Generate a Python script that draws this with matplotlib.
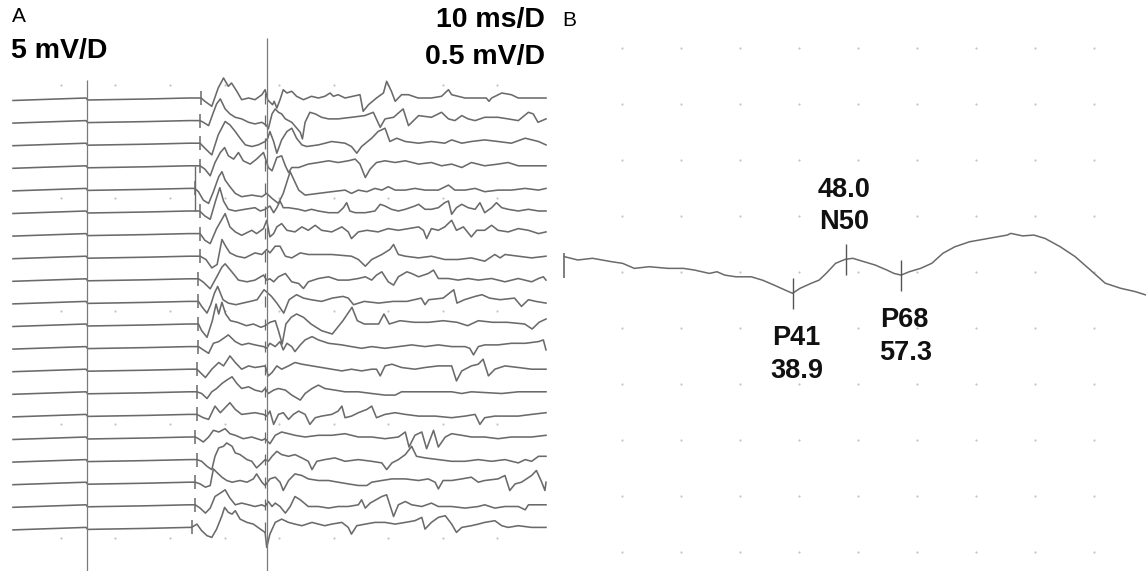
import numpy as np
import matplotlib.pyplot as plt

plt.rcParams['font.family'] = ['Liberation Sans', 'DejaVu Sans']

# ---- Panel A: 20 sweeps (time in ms, amplitude in uV) ----
# shared flat pre-stimulus baseline
pre_t = [0, 13.7, 14.0, 25.0, 33.0]
pre_v = [-25, 0, -20, -10, 0]

# stimulus artifact time of each sweep (ms)
stim_ms = [35.3, 35.1, 35.1, 35.1, 34.1, 35.0, 35.1, 35.1, 34.8, 34.8,
           34.8, 34.8, 34.5, 34.5, 34.5, 34.2, 34.5, 34.2, 34.2, 33.5]

tr00 = [(35.3, 0), (36.0, -33), (37.3, -83), (38.5, 100), (39.5, 200), (40.4, 117), (41.0, 150),
        (42.0, 67), (42.9, -17), (44.2, 0), (45.4, -17), (46.7, 33), (47.3, 83), (47.8, -20),
        (48.7, -67), (49.0, -33), (49.5, -100), (50.1, -17), (50.7, 83), (51.4, 50), (52.3, 67),
        (53.2, 17), (54.5, -17), (56.0, 17), (57.3, 0), (58.5, 17), (59.5, 50), (60.1, 17),
        (61.0, 33), (62.3, 0), (65.1, 33), (65.7, -133), (66.7, -67), (68.2, 0), (69.5, 50),
        (70.1, 167), (71.0, 67), (71.7, -33), (72.9, 33), (74.2, 33), (76.0, 0), (78.5, 0),
        (80.4, 17), (81.7, 83), (82.3, 33), (83.5, 17), (84.8, 0), (88.8, 0), (89.3, -33),
        (89.8, 0), (91.7, 50), (93.5, 33), (94.8, 0), (97.3, 0), (100, 0)]
tr01 = [(35.1, 0), (35.7, -17), (36.7, -50), (37.6, 83), (38.2, 167), (38.9, 217), (39.8, 117),
        (40.7, 67), (41.7, 33), (42.9, 17), (44.2, -17), (45.4, -33), (46.7, -17), (47.6, -50),
        (47.9, -83), (48.6, 67), (49.2, 117), (49.8, 83), (50.4, 67), (51.1, 17), (52.3, -17),
        (53.9, -117), (54.3, -183), (54.8, -17), (55.7, 83), (56.7, 67), (57.9, 33), (59.2, 17),
        (61.0, 17), (63.5, 33), (66.0, 50), (67.6, 83), (68.9, -67), (69.8, 17), (71.4, 33),
        (73.2, 117), (74.2, -50), (76.1, 50), (78.5, 33), (80.4, 83), (81.7, 17), (82.9, 0),
        (84.2, 50), (85.4, 17), (86.7, 0), (88.5, 33), (91.0, 33), (92.9, 17), (94.8, 0),
        (96.7, 83), (97.6, 67), (98.5, -17), (100, 17)]
tr02 = [(35.1, 0), (36.0, -50), (37.3, -117), (38.5, 83), (39.8, 217), (40.7, 183), (41.7, 117),
        (42.6, 50), (43.6, -17), (44.8, -33), (46.0, -17), (47.3, 17), (47.8, 50), (48.2, 117),
        (48.9, 17), (49.5, -100), (50.4, 33), (51.4, 117), (52.3, 150), (53.2, 50), (54.2, -17),
        (55.1, -33), (57.3, -17), (59.8, 17), (62.3, 0), (63.5, -33), (64.5, -100), (65.4, -33),
        (67.3, 50), (68.5, 117), (69.8, 150), (70.7, 17), (72.0, 50), (73.6, 17), (76.1, 0),
        (78.5, 17), (81.0, 0), (82.3, 33), (84.2, 0), (86.0, 17), (88.5, 33), (91.0, 17),
        (93.5, 0), (96.1, 50), (98.6, 17), (100, -17)]
tr03 = [(35.1, 0), (36.0, -33), (37.0, -100), (37.9, 33), (38.9, 133), (39.7, 183), (40.4, 100),
        (41.4, 67), (42.3, 133), (43.2, 50), (44.5, 17), (45.7, 67), (47.0, 133), (47.6, 33),
        (47.9, -17), (48.6, -50), (49.5, 83), (50.4, 100), (51.1, 0), (51.7, -67), (52.3, -17),
        (53.6, -17), (55.4, 17), (57.3, 33), (59.2, 50), (61.0, 33), (62.9, 50), (64.2, 67),
        (65.1, 17), (66.1, -117), (67.0, -33), (68.2, 33), (69.8, 50), (71.7, 33), (73.6, 50),
        (76.1, 17), (78.5, 33), (80.4, 0), (82.3, 17), (84.2, -17), (86.0, 33), (88.5, 0),
        (91.0, 17), (92.9, 33), (94.8, 0), (97.3, 0), (100, 0)]
tr04 = [(34.1, 0), (34.8, -33), (35.7, -117), (36.7, -150), (37.6, -33), (38.6, 117), (39.2, 167),
        (39.8, 83), (40.7, 17), (41.7, -50), (42.9, -83), (44.8, -67), (46.7, -83), (47.6, -50),
        (48.6, -100), (49.8, -150), (50.7, -50), (52.0, 167), (53.6, -17), (54.8, -67),
        (57.3, -50), (59.8, -33), (62.3, -17), (63.5, -50), (64.8, -17), (66.4, -33), (67.9, 0),
        (69.2, -17), (70.4, 17), (71.7, -17), (73.6, -17), (75.4, 0), (77.3, -17), (79.8, -17),
        (81.7, 33), (82.9, -17), (84.8, -17), (86.7, 0), (88.5, -33), (91.0, -17), (93.5, -17),
        (96.1, 0), (98.6, -17), (100, 0)]
tr05 = [(35.0, 0), (36.0, -50), (37.0, -83), (38.0, 100), (38.8, 233), (39.5, 100), (40.4, 17),
        (41.7, 0), (43.5, 17), (45.4, 33), (46.4, 0), (47.3, 17), (48.2, 50), (48.9, -17),
        (49.5, 33), (50.1, 100), (50.7, 33), (51.7, 33), (53.6, 17), (54.8, 0), (56.0, 17),
        (57.3, 0), (59.2, -17), (61.0, -17), (62.0, 33), (62.6, 83), (63.2, 0), (64.2, -17),
        (66.1, -17), (67.9, 0), (68.9, 67), (69.8, 50), (71.0, 17), (72.3, 0), (73.6, 17),
        (75.4, 50), (76.1, 67), (77.3, 17), (78.5, 17), (79.8, 33), (81.0, 83), (81.7, 100),
        (82.3, -33), (83.2, 33), (84.2, 67), (85.4, 33), (86.7, 17), (87.6, 83), (88.5, -17),
        (89.8, 33), (90.7, 83), (91.7, 33), (92.9, 17), (94.8, 0), (96.7, 17), (98.6, 0), (100, 0)]
tr06 = [(35.1, 0), (36.0, -67), (37.0, -100), (38.2, 50), (39.8, 200), (40.7, 67), (41.7, 17),
        (42.9, -17), (44.8, 33), (45.7, 0), (47.0, 50), (47.6, 133), (48.2, -33), (48.9, 0),
        (49.5, 67), (50.4, 100), (51.4, 33), (52.9, 17), (54.2, 67), (55.4, 33), (56.7, 83),
        (57.9, 33), (59.8, 17), (61.7, 67), (62.9, 17), (63.5, -50), (64.8, 17), (66.4, 33),
        (68.5, 17), (70.4, 50), (72.3, 33), (74.2, 50), (76.1, 67), (77.0, 33), (77.6, -50),
        (78.5, 50), (79.8, 33), (81.0, 67), (82.3, 133), (83.2, 33), (84.5, 67), (86.0, -33),
        (87.0, 33), (88.5, 33), (89.8, 83), (91.0, 33), (92.9, 17), (94.8, 50), (96.7, 33),
        (98.6, 0), (100, 17)]
tr07 = [(35.1, 0), (36.2, -33), (37.3, -117), (38.3, -83), (39.2, 167), (39.9, 100), (40.7, 33),
        (42.0, 0), (43.5, -17), (45.4, 33), (46.7, 17), (47.6, 67), (48.2, 33), (49.2, 100),
        (50.1, 100), (51.1, 0), (52.3, -17), (53.9, 33), (55.4, 17), (59.8, 17), (63.5, 0),
        (64.8, -33), (66.1, -100), (67.3, -33), (69.2, 17), (70.7, 67), (71.4, 117), (72.3, 17),
        (73.6, 0), (76.1, -17), (78.5, 0), (81.0, -33), (83.5, -33), (86.0, -17), (88.5, -50),
        (90.4, 17), (91.4, -17), (92.3, 17), (94.8, 0), (97.3, -17), (100, 0)]
tr08 = [(34.8, 0), (35.7, -33), (37.0, -100), (38.2, 17), (39.2, 117), (39.8, 150), (41.1, 67),
        (42.3, -13), (43.9, -30), (45.4, -13), (47.0, 37), (47.6, -13), (48.2, 0), (48.9, -30),
        (49.8, 20), (51.1, 53), (52.3, -30), (53.6, -47), (54.5, -97), (55.4, -30), (57.3, 3),
        (59.2, 20), (61.0, -13), (62.9, -13), (64.8, 3), (66.1, 20), (67.3, -13), (68.2, 37),
        (69.2, 70), (70.4, -30), (71.4, -63), (72.3, 20), (73.9, 70), (74.8, 53), (76.1, 20),
        (77.9, 53), (78.9, 87), (79.8, 3), (81.7, 3), (83.5, -13), (85.4, 3), (87.3, -13),
        (89.8, 3), (92.3, -30), (94.8, 3), (97.3, -30), (98.6, 3), (99.5, 20), (100, -13)]
tr09 = [(34.8, 0), (35.4, -50), (36.4, -117), (37.1, -33), (37.8, 83), (38.4, 150), (39.4, 17),
        (40.4, -17), (41.8, -33), (43.1, -17), (44.5, 0), (45.8, 17), (47.1, 117), (48.5, 50),
        (49.5, -17), (50.8, -117), (51.8, 17), (53.2, 67), (54.5, 33), (55.9, 17), (57.9, 0),
        (59.9, 33), (61.9, 50), (62.9, 33), (63.9, -33), (65.9, 0), (68.6, -17), (71.3, 0),
        (73.9, 0), (76.6, 33), (77.3, -33), (78.0, 17), (80.7, 33), (82.7, 117), (83.3, -17),
        (84.7, 17), (86.7, 50), (88.0, 67), (89.4, 33), (91.4, 17), (94.1, 33), (95.4, -50),
        (96.7, 17), (98.1, 0), (100, -17)]
tr10 = [(34.8, 0), (35.4, -67), (36.4, -133), (37.4, 33), (38.1, 200), (38.6, 100), (39.2, 217),
        (39.9, 100), (40.8, 33), (42.1, 17), (43.8, -17), (45.1, 0), (46.5, -33), (47.3, -17),
        (48.2, 17), (49.2, 33), (49.8, -67), (50.5, -200), (51.2, 0), (52.2, 67), (53.2, 100),
        (54.5, 67), (55.9, 0), (57.9, -67), (59.9, -100), (61.9, 33), (63.6, 167), (64.6, 33),
        (65.9, 0), (68.6, 0), (69.6, 100), (70.6, 0), (72.6, 33), (75.3, 17), (78.0, 17),
        (80.7, 33), (83.3, 17), (85.3, -17), (87.3, 33), (90.0, 17), (92.7, 17), (96.0, 0),
        (97.4, -50), (98.7, 17), (100, 50)]
tr11 = [(34.8, 0), (35.7, -33), (36.7, -67), (37.6, 33), (38.6, 50), (39.5, 83), (40.4, 117),
        (41.7, 50), (42.9, 17), (44.2, 33), (45.4, 17), (47.0, 0), (47.6, -17), (48.2, 33),
        (49.2, 0), (50.1, 50), (50.7, -33), (51.4, 33), (52.3, 0), (52.9, -50), (53.9, 17),
        (54.8, 67), (56.1, 100), (57.3, 67), (59.2, 33), (61.7, 17), (63.5, 0), (65.4, -17),
        (67.3, 0), (69.8, -17), (72.3, 0), (74.8, 17), (77.3, 0), (79.8, 17), (82.3, 0),
        (84.8, 0), (85.7, -17), (86.4, -83), (87.3, 0), (88.5, 17), (91.0, 17), (93.5, 33),
        (96.1, 33), (98.6, 50), (99.5, 67), (100, -33)]
tr12 = [(34.5, 0), (36.1, -83), (37.3, 0), (38.6, 67), (39.5, 33), (40.7, 133), (41.7, 67),
        (42.9, 0), (44.2, 33), (45.4, 17), (47.3, 33), (47.9, -67), (48.6, -33), (49.5, 33),
        (50.4, 0), (51.7, 33), (52.9, 67), (54.2, 50), (56.1, 33), (57.9, 17), (59.8, 0),
        (61.7, -17), (63.5, 0), (65.4, -17), (67.3, 0), (68.2, 0), (68.9, -67), (69.8, 33),
        (71.1, 50), (72.9, 17), (75.4, 0), (77.3, 17), (79.8, 33), (82.3, 33), (83.2, -117),
        (84.2, -17), (86.0, 33), (87.3, 50), (88.2, 100), (89.2, -67), (90.4, 0), (92.3, 33),
        (94.8, 17), (97.3, 0), (100, 0)]
tr13 = [(34.5, 0), (35.4, -17), (36.4, -67), (37.3, 0), (38.2, 33), (39.2, 83), (40.1, 117),
        (41.1, 150), (42.0, 83), (42.9, 33), (44.2, 50), (45.4, 17), (46.7, 0), (47.3, 33),
        (47.9, -17), (48.9, 17), (49.8, 33), (51.1, 17), (52.3, -33), (53.9, -83), (54.8, -17),
        (56.1, 33), (57.3, 67), (58.5, 33), (60.4, 17), (62.3, 0), (64.8, 0), (67.3, -17),
        (69.8, -33), (71.7, -33), (72.9, 0), (76.1, 0), (79.2, 0), (82.3, 0), (84.2, -17),
        (86.0, 0), (91.7, -17), (94.8, 0), (100, 0)]
tr14 = [(34.5, 0), (35.7, -33), (36.7, -50), (37.9, 83), (38.9, 17), (39.8, 67), (40.7, 117),
        (41.7, 50), (42.9, 0), (45.4, 17), (47.0, 0), (47.6, -17), (48.2, 33), (48.9, -100),
        (49.8, 0), (50.7, 17), (51.7, -50), (52.6, 0), (53.6, 33), (54.8, 0), (55.7, -100),
        (56.7, -33), (57.9, -17), (59.8, 0), (61.0, 33), (61.7, 83), (62.3, -33), (63.5, -17),
        (64.8, 17), (66.4, 50), (67.3, 83), (68.2, -33), (69.8, 0), (71.7, 17), (73.6, 0),
        (76.1, -17), (79.2, -17), (82.3, -33), (84.8, -17), (86.7, 0), (87.6, -100), (88.5, -33),
        (90.4, -17), (94.8, -17), (97.3, 0), (100, 17)]
tr15 = [(34.2, 0), (34.8, -17), (35.7, -50), (36.7, 0), (37.6, 67), (38.6, 50), (39.8, 83),
        (40.7, 33), (41.7, 17), (43.2, -17), (44.8, 0), (46.7, -33), (47.3, -17), (48.2, -67),
        (49.2, 17), (50.4, 50), (51.7, 33), (52.9, 17), (54.8, 0), (57.3, 17), (59.8, 17),
        (62.3, 33), (64.8, 0), (67.3, 0), (69.8, -17), (72.3, 0), (73.6, 50), (74.3, -100),
        (75.4, 17), (76.7, 50), (77.6, -117), (78.9, 67), (79.8, -100), (81.1, 0), (82.3, 33),
        (84.2, 17), (86.0, 0), (88.5, 0), (91.0, -17), (93.5, 0), (97.3, 0), (100, 17)]
tr16 = [(34.5, 0), (35.4, -17), (36.4, -67), (37.3, -100), (37.9, 33), (38.6, 117), (39.5, 133),
        (40.1, 167), (41.1, 133), (41.7, 67), (42.6, 50), (43.9, 0), (44.8, -17), (45.7, -83),
        (46.7, -33), (47.3, 0), (47.9, -17), (48.6, 33), (49.5, 83), (50.4, 50), (51.7, 33),
        (52.9, 50), (54.2, 17), (55.4, -17), (56.1, -100), (57.0, -17), (58.5, 0), (60.4, 17),
        (62.3, -17), (64.8, 0), (67.3, -17), (69.2, -33), (70.1, -100), (71.1, -33), (72.3, 0),
        (73.6, 50), (74.8, 133), (75.7, 33), (77.3, 17), (79.8, 0), (82.3, -17), (84.8, -17),
        (87.3, 0), (89.8, -17), (92.3, 0), (94.8, -33), (96.1, 0), (97.3, -17), (98.6, 33),
        (100, 33)]
tr17 = [(34.2, 0), (35.1, -17), (36.1, -50), (37.0, -33), (37.6, 133), (38.2, 100), (39.2, 50),
        (40.1, 17), (41.1, 0), (42.6, 17), (43.9, 0), (45.1, 33), (45.7, 83), (46.7, 0),
        (47.3, -33), (48.2, 33), (49.2, 50), (50.1, 0), (50.7, -83), (51.7, 17), (52.9, 83),
        (54.2, 67), (55.4, 33), (57.3, 17), (59.2, 17), (61.0, 0), (62.9, -17), (64.8, -33),
        (66.4, -33), (67.3, 0), (69.2, 17), (71.1, 33), (73.6, 33), (76.1, 17), (77.9, 33),
        (79.2, 0), (79.8, -67), (80.7, 17), (82.3, 17), (84.2, 33), (86.0, 50), (87.3, 0),
        (88.5, 17), (91.0, 33), (92.3, 67), (93.2, -83), (94.2, -17), (95.4, 0), (97.3, 67),
        (98.2, 117), (99.2, 0), (99.8, -83), (100, 0)]
tr18 = [(34.2, 0), (35.1, -33), (36.1, -83), (37.0, -33), (37.9, 83), (38.9, 117), (39.8, 150),
        (40.7, 67), (41.7, 0), (42.9, 17), (44.2, 0), (45.4, -17), (46.7, 0), (47.3, -17),
        (47.9, 33), (48.6, -17), (49.2, 17), (50.1, -17), (51.1, -83), (52.0, -17), (52.9, 83),
        (53.9, 50), (55.4, -17), (57.3, -17), (59.2, -33), (61.0, -17), (62.9, -17), (64.8, 0),
        (65.4, 50), (66.1, -33), (67.0, 17), (69.2, 83), (70.1, 100), (71.4, -117), (72.3, 0),
        (73.6, 33), (74.8, 0), (76.7, -17), (78.5, 17), (79.8, -17), (82.3, -17), (84.8, -33),
        (87.3, -17), (88.5, 0), (90.4, -33), (92.3, -17), (94.8, -17), (96.1, -50), (96.7, 0),
        (98.6, 0), (100, 0)]
tr19 = [(33.5, 0), (34.5, 33), (35.4, -33), (36.4, -83), (37.3, -100), (38.2, -17), (39.2, 117),
        (39.7, 200), (40.4, 150), (41.1, 133), (41.7, 167), (42.6, 83), (43.9, 50), (45.1, 33),
        (46.4, -17), (47.3, -50), (47.6, -200), (48.2, -67), (49.2, 50), (50.4, 83), (51.7, 50),
        (52.9, 33), (54.2, 17), (56.1, 50), (57.3, 33), (58.5, 17), (59.8, 33), (61.7, 50),
        (62.9, 0), (63.5, -67), (64.5, 17), (66.1, 33), (67.9, 50), (69.8, 50), (71.7, 33),
        (73.6, 50), (75.4, 67), (76.7, 100), (77.3, -17), (78.5, 50), (79.8, 100), (81.1, 117),
        (82.3, 33), (83.2, -50), (84.2, 0), (86.0, 17), (87.3, 33), (88.5, 50), (90.4, 67),
        (91.7, 17), (92.9, 0), (94.8, 17), (97.3, 0), (100, 0)]

sweeps = [tr00, tr01, tr02, tr03, tr04, tr05, tr06, tr07, tr08, tr09,
          tr10, tr11, tr12, tr13, tr14, tr15, tr16, tr17, tr18, tr19]
sweep_gap = 226      # uV between stacked sweeps
cursor_ms = [13.9, 47.7]

# ---- Panel B: averaged response (time in ms, amplitude in uV) ----
b_t = [0.2, 2.5, 5.0, 8.2, 10.1, 12.1, 14.6, 17.8, 20.4, 22.3, 24.8, 26.1, 27.4, 29.3, 31.9,
       33.8, 35.7, 37.6, 38.9, 40.2, 42.1, 43.4, 44.6, 46.2, 47.8, 49.1, 51.0, 52.9, 54.9,
       56.1, 57.3, 58.7, 60.6, 62.5, 64.4, 66.4, 68.9, 72.1, 75.3, 75.9, 77.9, 79.8, 81.7,
       84.3, 86.8, 89.4, 91.9, 94.5, 97.0, 98.8]
b_v = [0.56, 0.44, 0.50, 0.38, 0.32, 0.14, 0.20, 0.14, 0.14, 0.08, -0.04, 0.02, -0.10, -0.16,
       -0.16, -0.28, -0.45, -0.63, -0.75, -0.57, -0.39, -0.28, -0.04, 0.32, 0.46, 0.50, 0.38,
       0.26, 0.08, -0.04, -0.10, 0.02, 0.14, 0.32, 0.68, 0.91, 1.09, 1.21, 1.33, 1.39, 1.30,
       1.33, 1.21, 0.91, 0.56, 0.08, -0.39, -0.57, -0.69, -0.81]
peak_names = ['P41', 'N50', 'P68']
peak_ms = [38.9, 48.0, 57.3]
peak_side = ['below', 'above', 'below']

trace_col = '#6a6a6a'
dot_col = '#c4c4c4'

fig = plt.figure(figsize=(11.46, 5.71), dpi=100)
W, H = 1146.0, 571.0

# panel A
axA = fig.add_axes([0, 0, 553 / W, 1])
axA.set_xlim(-13 / 5.33, 540 / 5.33)
axA.set_ylim(-(571 - 98) * 10, 98 * 10)
axA.axis('off')

gx = 9.0 + 10.23 * np.arange(9)
gy = np.array([130, -1000, -2130, -3260, -4400])
GX, GY = np.meshgrid(gx, gy)
axA.scatter(GX.ravel(), GY.ravel(), s=2.5, color=dot_col, linewidths=0)

for i, sw in enumerate(sweeps):
    base = -i * sweep_gap
    t0 = sw[0][0]
    t = [p for p in pre_t if p < t0] + [p[0] for p in sw]
    v = [q for p, q in zip(pre_t, pre_v) if p < t0] + [p[1] for p in sw]
    axA.plot(t, np.array(v) + base, color=trace_col, lw=1.15)
    axA.vlines(stim_ms[i], base - 70, base + 70, color=trace_col, lw=1.1)
    axA.vlines(47.2, base - 55, base + 55, color=trace_col, lw=0.9)

# larger artifact on the 4th/5th sweeps
axA.vlines(stim_ms[4], -5 * sweep_gap, -3 * sweep_gap, color=trace_col, lw=1.0)
axA.vlines(cursor_ms[0], -4800, 180, color='#7a7a7a', lw=0.9)
axA.vlines(cursor_ms[1], -4800, 600, color='#7a7a7a', lw=0.9)

# panel B
axB = fig.add_axes([555 / W, 0, 591 / W, 1])
axB.set_xlim(-8 / 5.9, 583 / 5.9)
axB.set_ylim(-(571 - 272.3) / 28, 272.3 / 28)
axB.axis('off')

bx = 10.0 * np.arange(1, 10)
by = 2.0 * np.arange(-5, 5)
BX, BY = np.meshgrid(bx, by)
axB.scatter(BX.ravel(), BY.ravel(), s=2.5, color=dot_col, linewidths=0)

axB.plot(b_t, b_v, color='#6a6a6a', lw=1.1)
axB.vlines(0.1, -0.20, 0.69, color='#6a6a6a', lw=1.2)

lab_kw = dict(textcoords='offset points', ha='center', va='center',
              fontsize=19.5, fontweight='bold', color='#111111')
for name, ms, side in zip(peak_names, peak_ms, peak_side):
    v = np.interp(ms, b_t, b_v)
    axB.vlines(ms, v - 0.55, v + 0.55, color='#555555', lw=1.0)
    if side == 'below':
        axB.annotate(name, (ms, v - 0.55), xytext=(2.5, -21), **lab_kw)
        axB.annotate(f'{ms:.1f}', (ms, v - 0.55), xytext=(3, -45), **lab_kw)
    else:
        axB.annotate(name, (ms, v + 0.55), xytext=(-1.5, 16), **lab_kw)
        axB.annotate(f'{ms:.1f}', (ms, v + 0.55), xytext=(-1.5, 39), **lab_kw)

# labels
fig.text(12 / W, 1 - 16 / H, 'A', fontsize=15, va='center', ha='left')
fig.text(562 / W, 1 - 20 / H, 'B', fontsize=15, va='center', ha='left')
fig.text(11 / W, 1 - 51 / H, '5 mV/D', fontsize=20.5, fontweight='bold', va='center', ha='left')
fig.text(545 / W, 1 - 20.5 / H, '10 ms/D', fontsize=20.5, fontweight='bold', va='center', ha='right')
fig.text(545 / W, 1 - 57 / H, '0.5 mV/D', fontsize=20.5, fontweight='bold', va='center', ha='right')

fig.savefig('out.png', dpi=100)
